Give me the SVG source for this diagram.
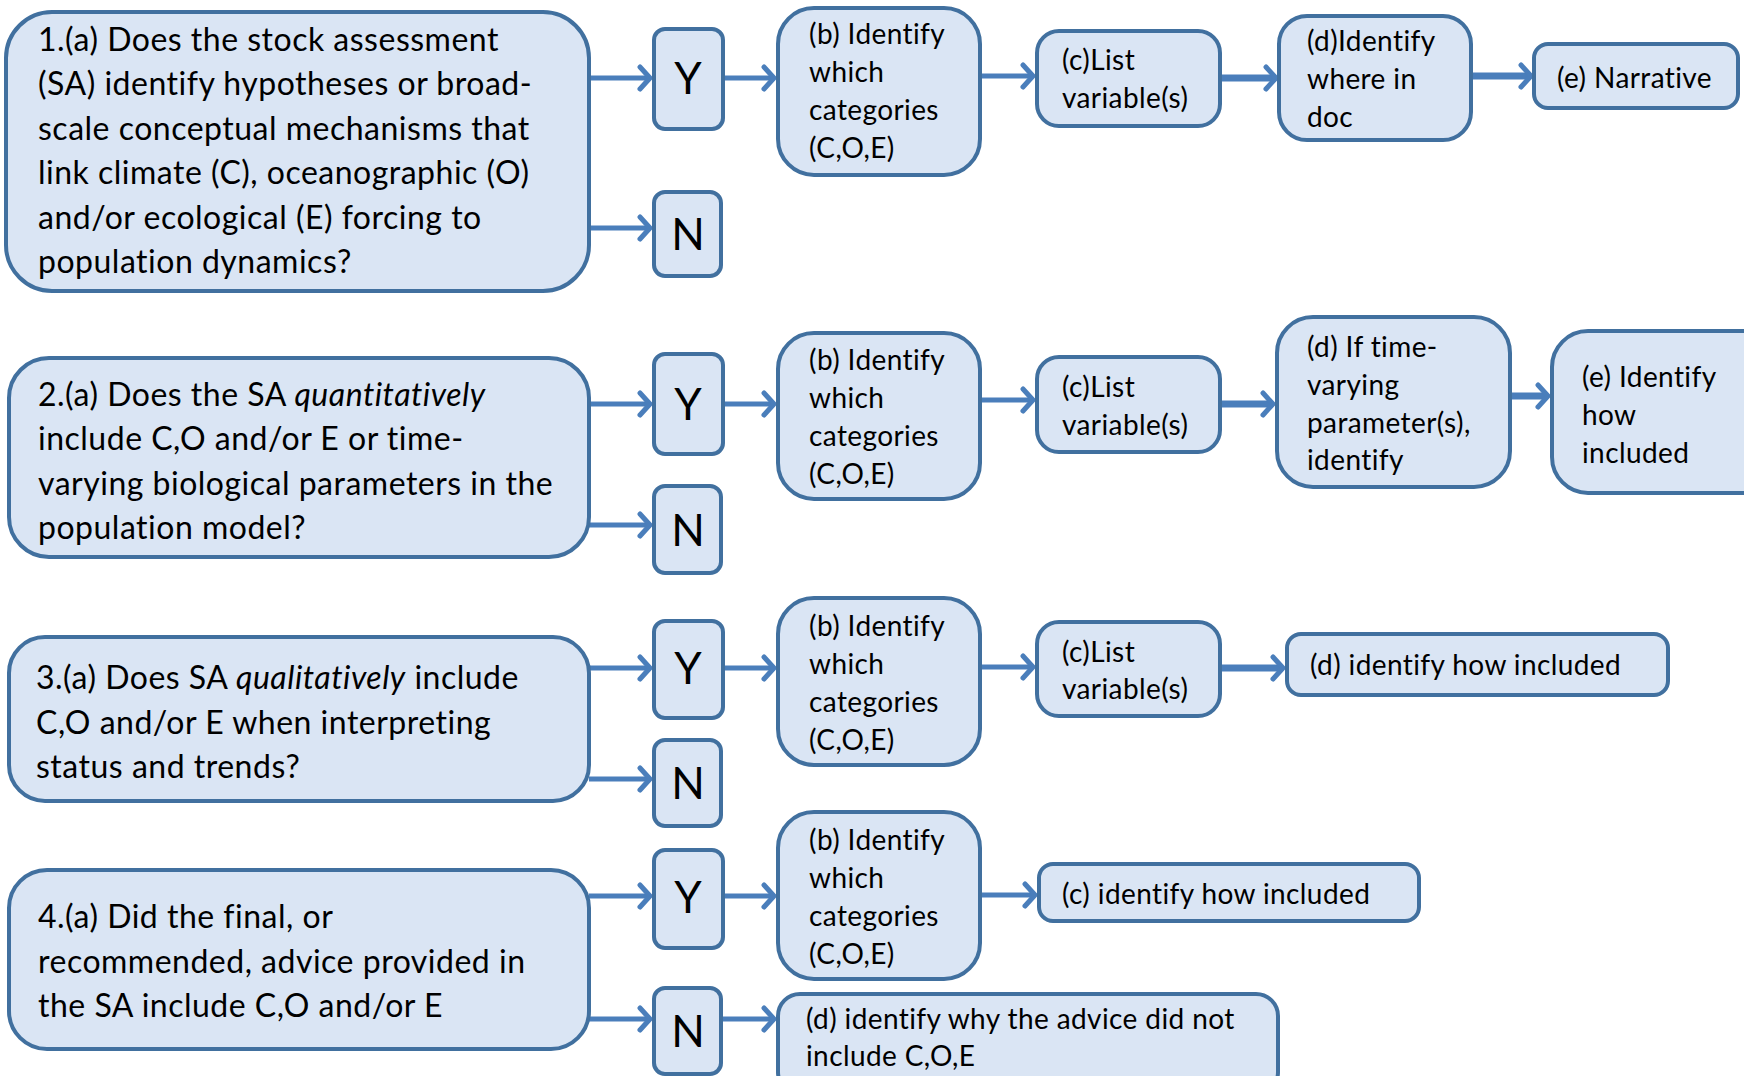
<svg xmlns="http://www.w3.org/2000/svg" width="1744" height="1076" viewBox="0 0 1744 1076">
<style>
.bx{fill:#dae5f4;stroke:#41709f;stroke-width:4}
.t{font-family:Lato,"Open Sans","Liberation Sans",sans-serif;fill:#000}
.big{font-size:32px;letter-spacing:0.5px}
.sm{font-size:28px;letter-spacing:0.4px}
.yn{font-size:44px;text-anchor:middle}
.ar{stroke:#4a7ebb;stroke-width:5;fill:none;marker-end:url(#ah)}
.thk{stroke-width:7}
.it{font-style:italic}
</style>
<defs>
<marker id="ah" markerWidth="24" markerHeight="28" refX="15" refY="14" orient="auto" markerUnits="userSpaceOnUse">
<path d="M5,3 L15,14 L5,25" fill="none" stroke="#4a7ebb" stroke-width="5" stroke-linecap="round" stroke-linejoin="round"/>
</marker>
</defs>
<rect width="1744" height="1076" fill="#fff"/>

<g id="connectors">
<path class="ar" d="M589,78 H650"/>
<path class="ar" d="M589,228 H650"/>
<path class="ar" d="M723,78 H774"/>
<path class="ar" d="M980,76 H1033"/>
<path class="ar thk" d="M1220,78 H1276"/>
<path class="ar thk" d="M1471,76 H1531"/>

<path class="ar" d="M589,404 H650"/>
<path class="ar" d="M589,525 H650"/>
<path class="ar" d="M723,404 H774"/>
<path class="ar" d="M980,400 H1033"/>
<path class="ar thk" d="M1220,404 H1273"/>
<path class="ar thk" d="M1510,396 H1548"/>

<path class="ar" d="M589,668 H650"/>
<path class="ar" d="M589,779 H650"/>
<path class="ar" d="M723,668 H774"/>
<path class="ar" d="M980,667 H1033"/>
<path class="ar thk" d="M1220,668 H1283"/>

<path class="ar" d="M589,896 H650"/>
<path class="ar" d="M589,1019 H650"/>
<path class="ar" d="M723,896 H774"/>
<path class="ar" d="M980,895 H1035"/>
<path class="ar" d="M721,1019 H774"/>
</g>

<g id="q1a">
<rect class="bx" x="6" y="12" width="583" height="279" rx="46"/>
<text class="t big" x="38"><tspan y="51">1.(a) Does the stock assessment</tspan><tspan x="38" y="95">(SA) identify hypotheses  or broad-</tspan><tspan x="38" y="140">scale conceptual  mechanisms  that</tspan><tspan x="38" y="184">link climate (C), oceanographic  (O)</tspan><tspan x="38" y="229">and/or ecological (E) forcing to</tspan><tspan x="38" y="273">population dynamics?</tspan></text>
</g>
<g id="q1y"><rect class="bx" x="654" y="29" width="69" height="100" rx="11"/><text class="t yn" x="688" y="94">Y</text></g>
<g id="q1n"><rect class="bx" x="654" y="192" width="67" height="84" rx="11"/><text class="t yn" x="688" y="250">N</text></g>
<g id="q1b"><rect class="bx" x="778" y="8" width="202" height="167" rx="36"/>
<text class="t sm" x="809"><tspan y="44">(b) Identify</tspan><tspan x="809" y="82">which</tspan><tspan x="809" y="120">categories</tspan><tspan x="809" y="158">(C,O,E)</tspan></text></g>
<g id="q1c"><rect class="bx" x="1037" y="31" width="183" height="95" rx="22"/>
<text class="t sm" x="1062"><tspan y="70">(c)List</tspan><tspan x="1062" y="108">variable(s)</tspan></text></g>
<g id="q1d"><rect class="bx" x="1279" y="16" width="192" height="124" rx="28"/>
<text class="t sm" x="1307"><tspan y="51">(d)Identify</tspan><tspan x="1307" y="89">where in</tspan><tspan x="1307" y="127">doc</tspan></text></g>
<g id="q1e"><rect class="bx" x="1534" y="44" width="204" height="64" rx="14"/>
<text class="t sm" x="1557" y="88">(e) Narrative</text></g>

<g id="q2a">
<rect class="bx" x="9" y="358" width="580" height="199" rx="40"/>
<text class="t big" x="38"><tspan y="406">2.(a) Does the SA <tspan class="it">quantitatively</tspan></tspan><tspan x="38" y="450">include C,O and/or E or time-</tspan><tspan x="38" y="495">varying biological parameters in the</tspan><tspan x="38" y="539">population model?</tspan></text>
</g>
<g id="q2y"><rect class="bx" x="654" y="354" width="69" height="100" rx="11"/><text class="t yn" x="688" y="420">Y</text></g>
<g id="q2n"><rect class="bx" x="654" y="486" width="67" height="87" rx="11"/><text class="t yn" x="688" y="546">N</text></g>
<g id="q2b"><rect class="bx" x="778" y="333" width="202" height="166" rx="36"/>
<text class="t sm" x="809"><tspan y="370">(b) Identify</tspan><tspan x="809" y="408">which</tspan><tspan x="809" y="446">categories</tspan><tspan x="809" y="484">(C,O,E)</tspan></text></g>
<g id="q2c"><rect class="bx" x="1037" y="357" width="183" height="95" rx="22"/>
<text class="t sm" x="1062"><tspan y="397">(c)List</tspan><tspan x="1062" y="435">variable(s)</tspan></text></g>
<g id="q2d"><rect class="bx" x="1277" y="317" width="233" height="170" rx="36"/>
<text class="t sm" x="1307"><tspan y="357">(d) If time-</tspan><tspan x="1307" y="395">varying</tspan><tspan x="1307" y="433">parameter(s),</tspan><tspan x="1307" y="470">identify</tspan></text></g>
<g id="q2e"><rect class="bx" x="1552" y="331" width="230" height="162" rx="36"/>
<text class="t sm" x="1582"><tspan y="387">(e) Identify</tspan><tspan x="1582" y="425">how</tspan><tspan x="1582" y="463">included</tspan></text></g>

<g id="q3a">
<rect class="bx" x="9" y="637" width="580" height="164" rx="36"/>
<text class="t big" x="36"><tspan y="689">3.(a) Does SA <tspan class="it">qualitatively</tspan> include</tspan><tspan x="36" y="734">C,O and/or E when interpreting</tspan><tspan x="36" y="778">status and trends?</tspan></text>
</g>
<g id="q3y"><rect class="bx" x="654" y="621" width="69" height="97" rx="11"/><text class="t yn" x="688" y="684">Y</text></g>
<g id="q3n"><rect class="bx" x="654" y="740" width="67" height="86" rx="11"/><text class="t yn" x="688" y="799">N</text></g>
<g id="q3b"><rect class="bx" x="778" y="598" width="202" height="167" rx="36"/>
<text class="t sm" x="809"><tspan y="636">(b) Identify</tspan><tspan x="809" y="674">which</tspan><tspan x="809" y="712">categories</tspan><tspan x="809" y="750">(C,O,E)</tspan></text></g>
<g id="q3c"><rect class="bx" x="1037" y="622" width="183" height="94" rx="22"/>
<text class="t sm" x="1062"><tspan y="662">(c)List</tspan><tspan x="1062" y="699">variable(s)</tspan></text></g>
<g id="q3d"><rect class="bx" x="1287" y="634" width="381" height="61" rx="14"/>
<text class="t sm" x="1310" y="675">(d) identify how included</text></g>

<g id="q4a">
<rect class="bx" x="9" y="870" width="580" height="179" rx="38"/>
<text class="t big" x="38"><tspan y="928">4.(a) Did the final, or</tspan><tspan x="38" y="973">recommended, advice provided in</tspan><tspan x="38" y="1017">the SA include C,O and/or E</tspan></text>
</g>
<g id="q4y"><rect class="bx" x="654" y="850" width="69" height="98" rx="11"/><text class="t yn" x="688" y="913">Y</text></g>
<g id="q4n"><rect class="bx" x="654" y="988" width="67" height="86" rx="11"/><text class="t yn" x="688" y="1047">N</text></g>
<g id="q4b"><rect class="bx" x="778" y="812" width="202" height="167" rx="36"/>
<text class="t sm" x="809"><tspan y="850">(b) Identify</tspan><tspan x="809" y="888">which</tspan><tspan x="809" y="926">categories</tspan><tspan x="809" y="964">(C,O,E)</tspan></text></g>
<g id="q4c"><rect class="bx" x="1039" y="864" width="380" height="57" rx="14"/>
<text class="t sm" x="1062" y="904">(c) identify how included</text></g>
<g id="q4d"><rect class="bx" x="778" y="994" width="500" height="100" rx="22"/>
<text class="t sm" x="806"><tspan y="1029">(d) identify why the advice did not</tspan><tspan x="806" y="1066">include C,O,E</tspan></text></g>
</svg>
